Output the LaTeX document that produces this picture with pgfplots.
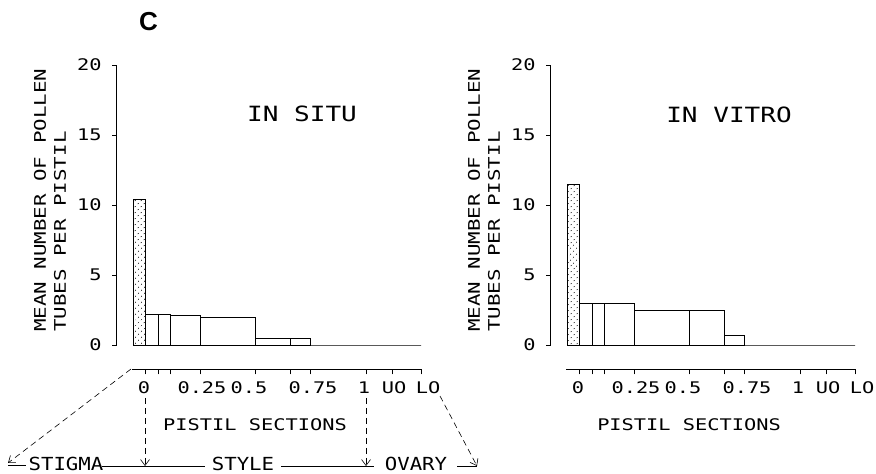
\documentclass[border=0pt]{standalone}
\usepackage{fontspec}
\setmainfont{DejaVu Sans Mono}
\newfontfamily\pfa{DejaVu Sans Mono}[FakeStretch=1.27]
\newfontfamily\pfb{DejaVu Sans Mono}[FakeStretch=1.3]
\newfontfamily\pfc{DejaVu Sans Mono}[FakeStretch=1.24]
\newfontfamily\pfd{DejaVu Sans Mono}[FakeStretch=1.15]
\newfontfamily\sfC{Liberation Sans}
\usepackage{pgfplots}
\pgfplotsset{compat=1.18}
\usetikzlibrary{patterns.meta,arrows.meta}
\newcommand\tickf{\pfa\fontsize{16}{18}\selectfont}
\newcommand\ylf{\pfb\fontsize{16}{18}\selectfont}
\newcommand\titf{\pfc\fontsize{21}{23}\selectfont}
\newcommand\botf{\pfd\fontsize{18}{20}\selectfont}
\pgfplotsset{
 barax/.style={scale only axis, anchor=south west, width=305.3pt, height=280pt,
   xmin=-16.3, xmax=289, ymin=0, ymax=20, axis x line=none, axis y line*=left,
   ytick={0,5,10,15,20}, yticklabels={0,5,10,15,20}, tick align=outside,
   major tick length=4.5pt, tick style={black, line width=0.8pt},
   axis line style={line width=0.8pt}, yticklabel style={font=\tickf, xshift=-7pt},
   clip=false},
 tickax/.style={scale only axis, anchor=south west, width=290pt, height=10pt,
   xmin=-1, xmax=289, ymin=0, ymax=1, axis y line=none, axis x line*=bottom,
   xtick={12.4,25,37.7,67,122.4,157.4,177.2,233,259.4,288}, xticklabels={},
   tick align=outside, major tick length=5pt, tick style={black, line width=0.8pt},
   axis line style={line width=0.8pt}, clip=false},
 bar/.style={ybar interval, draw=black, line width=0.8pt, fill=white},
 stip/.style={ybar interval, draw=black, line width=0.8pt,
   pattern={Dots[distance=4pt, radius=0.6pt, angle=45]}},
}
\begin{document}
\begin{tikzpicture}[x=1pt,y=1pt]
\path[use as bounding box] (0,0) rectangle (876,474);
% left panel: IN SITU
\begin{axis}[barax, at={(116.7pt,129pt)}]
\addplot[stip] coordinates {(0,10.4) (12.4,0)};
\addplot[bar] coordinates {(12.4,2.15) (25,2.15) (37.7,2.12) (67,1.98) (122.4,0.5) (157.4,0.5) (177.2,0) (233,0) (259.4,0) (288,0)};
\end{axis}
\begin{axis}[tickax, at={(132pt,104.5pt)}]
\addplot[draw=none] coordinates {(0,0.5)};
\end{axis}
% right panel: IN VITRO
\begin{axis}[barax, at={(550.7pt,129pt)}]
\addplot[stip] coordinates {(0,11.45) (12.4,0)};
\addplot[bar] coordinates {(12.4,2.98) (25,2.98) (37.7,2.95) (67,2.5) (122.4,2.5) (157.4,0.65) (177.2,0) (233,0) (259.4,0) (288,0)};
\end{axis}
\begin{axis}[tickax, at={(566pt,104.5pt)}]
\addplot[draw=none] coordinates {(0,0.5)};
\end{axis}
% texts
\node[font=\sfC\bfseries\fontsize{26}{28}\selectfont] at (148.5,452) {C};
\node[font=\titf] at (302,360) {IN SITU};
\node[font=\titf] at (729,359) {IN VITRO};
\foreach \xx in {0,434}{
  \node[rotate=90, anchor=west, font=\ylf, inner sep=0pt] at (40+\xx,142) {MEAN NUMBER OF POLLEN};
  \node[rotate=90, anchor=west, font=\ylf, inner sep=0pt] at (60+\xx,142) {TUBES PER PISTIL};
  \foreach \p/\t in {11/0, 69/0.25, 116/0.5, 180/0.75, 231/1, 261/UO, 295/LO}{
    \node[font=\tickf, inner sep=0pt] at (133+\xx+\p,86) {\t};
  }
  \node[font=\tickf] at (255+\xx,49) {PISTIL SECTIONS};
}
% bottom annotation
\node[font=\botf, inner sep=0pt] at (66,10) {STIGMA};
\node[font=\botf, inner sep=0pt] at (243,10) {STYLE};
\node[font=\botf, inner sep=0pt] at (416,10) {OVARY};
\tikzset{dsh/.style={line width=0.6pt, dash pattern=on 6pt off 4pt, -{Straight Barb[length=6pt,width=9pt]}}}
\draw[dsh] (131,105) -- (8,11);
\draw[line width=0.6pt] (8,9) -- (26,9);
\draw[line width=0.6pt] (102,8) -- (205,8);
\draw[line width=0.6pt] (281,8) -- (374,8);
\draw[line width=0.6pt] (457,8) -- (477,8);
\draw[dsh] (145,76) -- (145,8);
\draw[dsh] (366,76) -- (366,8);
\draw[dsh] (440,78) -- (477,8);
\end{tikzpicture}
\end{document}
